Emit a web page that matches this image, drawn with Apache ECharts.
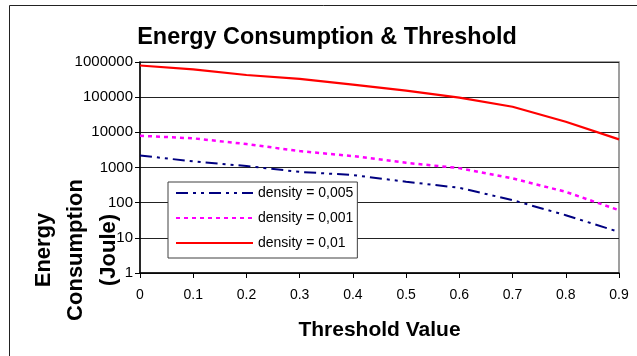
<!DOCTYPE html>
<html>
<head>
<meta charset="utf-8">
<script src="https://cdn.jsdelivr.net/npm/echarts@6/dist/echarts.min.js"></script>
<style>html,body{margin:0;padding:0;background:#fff}#c{width:637px;height:356px}</style>
</head>
<body>
<div id="c"></div>
<script>
const categories = ['0','0.1','0.2','0.3','0.4','0.5','0.6','0.7','0.8','0.9'];
const density0005 = [2200, 1490, 1100, 750, 610, 395, 265, 118, 44, 14.7];
const density0001 = [8000, 6750, 4640, 2930, 2110, 1360, 960, 490, 203, 61];
const density001 = [795000, 620000, 427000, 330000, 227000, 153000, 97000, 53500, 20000, 6300];
const yTicks = ['1','10','100','1000','10000','100000','1000000'];

const FONT = 'Liberation Sans, Arial, sans-serif';
const chart = echarts.init(document.getElementById('c'));
chart.setOption({
  animation: false,
  backgroundColor: '#fff',
  title: {
    text: 'Energy Consumption & Threshold',
    left: 322, top: 21, textAlign: 'center',
    textStyle: {fontFamily: FONT, fontWeight: 'bold', fontSize: 23.4, color: '#000'}
  },
  graphic: [
    {type: 'rect', shape: {x: 9.5, y: 5.5, width: 700, height: 400}, style: {fill: 'none', stroke: '#222', lineWidth: 1}, silent: true},
    {type: 'text', x: 76, y: 250, rotation: Math.PI / 2,
     style: {text: 'Energy\nConsumption\n(Joule)', fontFamily: FONT, fontWeight: 'bold', fontSize: 22, lineHeight: 32.5, fill: '#000', align: 'center', verticalAlign: 'middle'}}
  ],
  legend: {
    orient: 'vertical', left: 168, top: 182,
    padding: [4, 4, 8, 7], itemWidth: 77, itemHeight: 14, itemGap: 11,
    borderColor: '#404040', borderWidth: 1, backgroundColor: '#fff',
    itemStyle: {opacity: 0},
    textStyle: {fontFamily: FONT, fontSize: 14, color: '#000'},
    data: ['density = 0,005', 'density = 0,001', 'density = 0,01']
  },
  grid: {left: 140, right: 18, top: 62, bottom: 83, show: true, borderColor: '#808080', borderWidth: 1.5, containLabel: false},
  xAxis: {
    type: 'category', data: categories, boundaryGap: false,
    name: 'Threshold Value', nameLocation: 'middle', nameGap: 47,
    nameTextStyle: {fontFamily: FONT, fontWeight: 'bold', fontSize: 21, color: '#000'},
    axisLine: {lineStyle: {color: '#000', width: 1.5}},
    axisTick: {show: true, inside: false, length: 5, lineStyle: {color: '#000'}},
    axisLabel: {fontFamily: FONT, fontSize: 14, color: '#000', margin: 15},
    splitLine: {show: false}
  },
  yAxis: {
    type: 'log', logBase: 10, min: 1, max: 1000000,
    axisLine: {show: true, lineStyle: {color: '#000', width: 1.5}},
    axisTick: {show: true, inside: false, length: 5, lineStyle: {color: '#000'}},
    axisLabel: {fontFamily: FONT, fontSize: 15, color: '#000', margin: 7,
      formatter: function (v) { const i = Math.round(Math.log10(v)); return yTicks[i] !== undefined ? yTicks[i] : ''; }},
    splitLine: {show: true, lineStyle: {color: '#222', width: 1}}
  },
  series: [
    {name: 'density = 0,005', type: 'line', data: density0005, symbol: 'none', z: 3,
     lineStyle: {color: '#000080', width: 2, type: [12, 5, 3, 5, 3, 5]}, itemStyle: {color: '#000080'}},
    {name: 'density = 0,001', type: 'line', data: density0001, symbol: 'none', z: 3,
     lineStyle: {color: '#ff00ff', width: 2.5, type: [4, 4]}, itemStyle: {color: '#ff00ff'}},
    {name: 'density = 0,01', type: 'line', data: density001, symbol: 'none', z: 3,
     lineStyle: {color: '#ff0000', width: 2.2, type: 'solid'}, itemStyle: {color: '#ff0000'}}
  ]
});
</script>
</body>
</html>
